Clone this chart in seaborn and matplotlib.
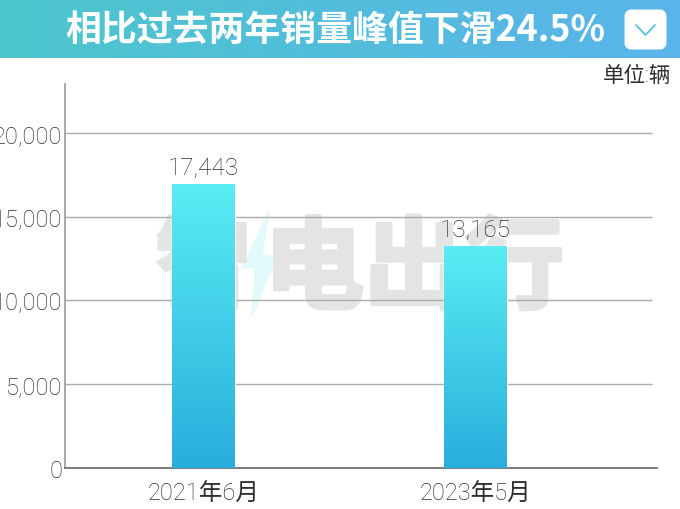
import numpy as np
import pandas as pd
import matplotlib
matplotlib.use("Agg")
import matplotlib.pyplot as plt
import matplotlib.patheffects as pe
from matplotlib.patches import FancyBboxPatch
from matplotlib.colors import LinearSegmentedColormap
import seaborn as sns

months = ["2021年6月", "2023年5月"]
bar_heights = [16950, 13250]
bar_labels = ["17,443", "13,165"]
y_ticks = [0, 5000, 10000, 15000, 20000]
y_tick_labels = ["0", "5,000", "10,000", "15,000", "20,000"]
title = "相比过去两年销量峰值下滑24.5%"
unit = "单位:辆"

W, H = 680, 510
CJK = ["Noto Sans CJK SC", "DejaVu Sans"]
LIGHT = ["Roboto", "Noto Sans CJK SC", "DejaVu Sans"]
TEXT = "#2E2E2E"

sns.set_theme(style="white")
plt.rcParams["font.family"] = CJK

fig = plt.figure(figsize=(W / 100, H / 100), dpi=100, facecolor="white")

# main chart
ax = fig.add_axes([65 / W, 1 - 469 / H, (657 - 65) / W, (469 - 85) / H])
df = pd.DataFrame({"month": months, "value": bar_heights})
sns.barplot(data=df, x="month", y="value", ax=ax, width=0.2316, color="#29ADDD", zorder=2)

bar_cmap = LinearSegmentedColormap.from_list("bar", ["#5AEDF3", "#29ADDD"])
grad = np.linspace(0, 1, 256).reshape(-1, 1)
for patch, lab in zip(ax.patches, bar_labels):
    x0, w, h = patch.get_x(), patch.get_width(), patch.get_height()
    img = ax.imshow(grad, cmap=bar_cmap, aspect="auto", extent=(x0, x0 + w, 0, h), zorder=3)
    img.set_clip_path(patch)
    ax.text(x0 + w / 2, h + 300, lab, ha="center", va="bottom", fontsize=17.5,
            color=TEXT, zorder=4, fontweight="light", family=LIGHT)

ax.set_xlim(-0.5098, 1.667)
ax.set_ylim(0, 22925)
ax.set_yticks(y_ticks)
ax.set_yticklabels(y_tick_labels, fontsize=17, color=TEXT, fontweight="light", family=LIGHT)
ax.set_xticks(range(len(months)))
ax.set_xticklabels(months, fontsize=17, color=TEXT, fontweight="light", family=LIGHT)
ax.tick_params(axis="both", length=0, pad=2)
ax.tick_params(axis="x", pad=10)
ax.set_xlabel("")
ax.set_ylabel("")

ax.hlines(y_ticks[1:], 0, 0.9916, transform=ax.get_yaxis_transform(),
          color="#AAAAAA", lw=1, zorder=1)

sns.despine(ax=ax)
ax.spines["left"].set_color("#999999")
ax.spines["bottom"].set_color("#666666")
ax.spines["left"].set_linewidth(1.2)
ax.spines["bottom"].set_linewidth(1.2)
ax.patch.set_alpha(0)

# watermark
for txt, px, size in [("智", 204, 70), ("电出行", 414, 72)]:
    fig.text(px / W, 1 - 272 / H, txt, ha="center", va="center", fontsize=size,
             fontweight="bold", color="#E4E4E4", zorder=-1,
             path_effects=[pe.withStroke(linewidth=3, foreground="#E4E4E4")])
bolt = [(269, 212), (242, 270), (255, 268), (252, 317), (277, 257), (262, 257)]
fig.patches.append(plt.Polygon([(x / W, 1 - y / H) for x, y in bolt], closed=True,
                               transform=fig.transFigure, color="#E2FAFC", zorder=-1))

# header band
head = fig.add_axes([0, 1 - 59 / H, 1, 59 / H])
head_cmap = LinearSegmentedColormap.from_list("head", ["#4CC6CC", "#5AB4EA"])
head.imshow(np.linspace(0, 1, 256).reshape(1, -1), cmap=head_cmap, aspect="auto", extent=(0, W, 59, 0))
head.set_xlim(0, W)
head.set_ylim(59, 0)
head.axis("off")
head.text(65, 30, title, ha="left", va="center", color="white", fontsize=25.85, fontweight="bold")
head.add_patch(FancyBboxPatch((628, 14), 35, 33, boxstyle="round,pad=0,rounding_size=3",
                              mutation_aspect=1, fc="white", ec="white", lw=5, joinstyle="round"))
head.plot([636, 645.5, 655], [26, 36, 26], color="#5BBFE0", lw=1.3)

fig.text(671 / W, 1 - 77 / H, unit, ha="right", va="center", fontsize=15.5,
         color=TEXT, fontweight="light", family=LIGHT)

fig.savefig("out.png", dpi=100)
